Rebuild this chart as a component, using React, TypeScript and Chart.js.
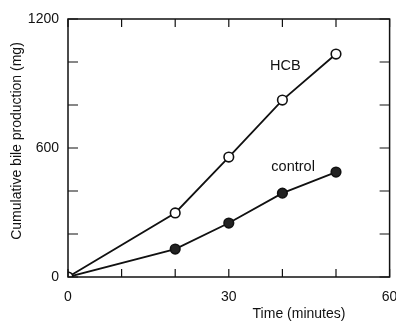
import React, { useEffect, useRef } from "react";
import { Chart, registerables } from "chart.js";

Chart.register(...registerables);

const timeMinutes = [0, 20, 30, 40, 50];
const hcbValues = [0, 298, 558, 823, 1037];
const controlValues = [0, 130, 251, 390, 488];
const xTickValues = [0, 10, 20, 30, 40, 50, 60];
const xLabelValues = [0, 30, 60];
const yTickValues = [0, 200, 400, 600, 800, 1000, 1200];
const yLabelValues = [0, 600, 1200];
const seriesNames = ["HCB", "control"];
const xTitle = "Time (minutes)";
const yTitle = "Cumulative bile production (mg)";

const FONT = "Liberation Sans, Arial, Helvetica, sans-serif";

const framePlugin = {
  id: "frame",
  afterDraw(chart: any) {
    const { ctx, chartArea } = chart;
    const xs = chart.scales.x;
    const ys = chart.scales.y;
    const { left, right, top, bottom } = chartArea;
    ctx.save();
    ctx.strokeStyle = "#111";
    ctx.lineWidth = 1.5;
    ctx.strokeRect(left, top, right - left, bottom - top);
    ctx.lineWidth = 1.2;
    ctx.beginPath();
    xTickValues.forEach((v) => {
      const px = xs.getPixelForValue(v);
      ctx.moveTo(px, bottom);
      ctx.lineTo(px, bottom - 8);
      ctx.moveTo(px, top);
      ctx.lineTo(px, top + 8);
    });
    yTickValues.forEach((v) => {
      const py = ys.getPixelForValue(v);
      ctx.moveTo(left, py);
      ctx.lineTo(left + 10, py);
      ctx.moveTo(right, py);
      ctx.lineTo(right - 10, py);
    });
    ctx.stroke();

    ctx.fillStyle = "#111";
    ctx.font = `14.5px ${FONT}`;
    ctx.textAlign = "center";
    ctx.textBaseline = "middle";
    ctx.fillText(seriesNames[0], xs.getPixelForValue(40) + 3, ys.getPixelForValue(980));
    ctx.fillText(seriesNames[1], xs.getPixelForValue(42), ys.getPixelForValue(510));
    ctx.font = `14px ${FONT}`;
    ctx.fillText(xTitle, 299, 314);
    ctx.save();
    ctx.translate(17, 141);
    ctx.rotate(-Math.PI / 2);
    ctx.fillText(yTitle, 0, 0);
    ctx.restore();
    ctx.restore();
  },
};

export default function App() {
  const ref = useRef<HTMLCanvasElement | null>(null);
  useEffect(() => {
    document.body.style.margin = "0";
    const canvas = ref.current;
    if (!canvas) return;
    const chart = new Chart(canvas, {
      type: "line",
      data: {
        datasets: [
          {
            label: seriesNames[0],
            data: timeMinutes.map((t, i) => ({ x: t, y: hcbValues[i] })),
            borderColor: "#111",
            borderWidth: 1.8,
            backgroundColor: "#fff",
            pointRadius: 4.8,
            pointBorderWidth: 1.6,
            pointBorderColor: "#111",
            pointBackgroundColor: "#fff",
          },
          {
            label: seriesNames[1],
            data: timeMinutes.map((t, i) => ({ x: t, y: controlValues[i] })),
            borderColor: "#111",
            borderWidth: 1.8,
            backgroundColor: "#222",
            pointRadius: 4.8,
            pointBorderWidth: 1.6,
            pointBorderColor: "#111",
            pointBackgroundColor: "#222",
          },
        ],
      },
      options: {
        animation: false,
        responsive: false,
        maintainAspectRatio: false,
        layout: { padding: { left: 0, top: 19, right: 4, bottom: 0 } },
        plugins: { legend: { display: false }, tooltip: { enabled: false } },
        scales: {
          x: {
            type: "linear",
            min: 0,
            max: 60,
            grid: { display: false, drawTicks: false },
            border: { display: false },
            afterBuildTicks: (s: any) => {
              s.ticks = xTickValues.map((v) => ({ value: v }));
            },
            afterFit: (s: any) => {
              s.height = 44;
              s.paddingLeft = 0;
              s.paddingRight = 0;
            },
            ticks: {
              autoSkip: false,
              maxRotation: 0,
              padding: 12,
              color: "#111",
              font: { family: FONT, size: 14 },
              callback: (v: any) => (xLabelValues.includes(Number(v)) ? String(v) : ""),
            },
          },
          y: {
            type: "linear",
            min: 0,
            max: 1200,
            grid: { display: false, drawTicks: false },
            border: { display: false },
            afterBuildTicks: (s: any) => {
              s.ticks = yTickValues.map((v) => ({ value: v }));
            },
            afterFit: (s: any) => {
              s.width = 68;
              s.paddingTop = 0;
              s.paddingBottom = 0;
            },
            ticks: {
              autoSkip: false,
              padding: 9,
              color: "#111",
              font: { family: FONT, size: 14 },
              callback: (v: any) => (yLabelValues.includes(Number(v)) ? String(v) : ""),
            },
          },
        },
      },
      plugins: [framePlugin],
    });
    return () => chart.destroy();
  }, []);
  return (
    <div style={{ position: "fixed", left: 0, top: 0, width: 396, height: 321, background: "#fff" }}>
      <canvas ref={ref} width={396} height={321} style={{ width: 396, height: 321 }} />
    </div>
  );
}
